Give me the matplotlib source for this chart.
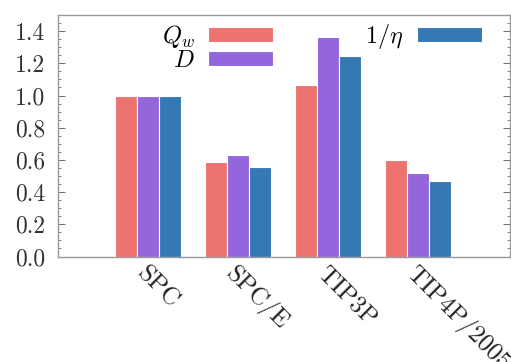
import matplotlib
matplotlib.use("Agg")
import matplotlib.pyplot as plt
import numpy as np
from matplotlib.ticker import MultipleLocator, FixedLocator, FixedFormatter

plt.rcParams['font.family'] = 'serif'
plt.rcParams['font.serif'] = ['cmr10', 'DejaVu Serif']
plt.rcParams['mathtext.fontset'] = 'cm'
plt.rcParams['axes.unicode_minus'] = False

categories = ['SPC', 'SPC/E', 'TIP3P', 'TIP4P/2005']
qw = [1.0, 0.584, 1.066, 0.602]
diff = [1.0, 0.633, 1.361, 0.518]
inv_eta = [1.0, 0.553, 1.247, 0.468]
series_labels = [r'$Q_w$', r'$D$', r'$1/\eta$']
colors = ['#ec7370', '#9466dc', '#3479b3']
yticks = [0.0, 0.2, 0.4, 0.6, 0.8, 1.0, 1.2, 1.4]

fig = plt.figure(figsize=(5.11, 3.62), dpi=100)
ax = fig.add_axes([58/511, 1 - 256.5/362, (510-58)/511, (256.5-15)/362])

x = np.arange(len(categories))
w = 0.245
handles = []
for i, (vals, lab, c) in enumerate(zip([qw, diff, inv_eta], series_labels, colors)):
    b = ax.bar(x + (i-1)*w, vals, w, color=c, edgecolor='white', linewidth=0.8, label=lab)
    handles.append(b)

ax.set_xlim(-1.0, 4.02)
ax.set_ylim(0, 1.5)
ax.yaxis.set_major_locator(FixedLocator(yticks))
ax.yaxis.set_major_formatter(FixedFormatter(['%.1f' % v for v in yticks]))
ax.yaxis.set_minor_locator(MultipleLocator(0.05))
ax.tick_params(axis='y', which='both', direction='in', left=True, right=True, labelsize=17, colors='#555555')
ax.tick_params(axis='y', which='major', length=5, width=0.6, pad=9)
ax.tick_params(axis='y', which='minor', length=2.5, width=0.5)
ax.tick_params(axis='y', labelcolor='#333333')
ax.set_xticks(x)
ax.set_xticklabels(categories, rotation=-45, ha='left', va='top', rotation_mode='anchor', fontsize=18, color='#222222')
ax.tick_params(axis='x', length=0, pad=4)
for s in ax.spines.values():
    s.set_color('#999999')
    s.set_linewidth(1.0)

leg = fig.legend(handles=handles, labels=series_labels, ncol=2, loc='upper right',
                 bbox_to_anchor=(482/511, 1 - 22/362), frameon=False, markerfirst=False,
                 handlelength=2.67, handleheight=0.53, fontsize=17.5, columnspacing=3.8,
                 labelspacing=0.0, handletextpad=0.55, borderpad=0, borderaxespad=0)

fig.savefig('out.png', dpi=100)
